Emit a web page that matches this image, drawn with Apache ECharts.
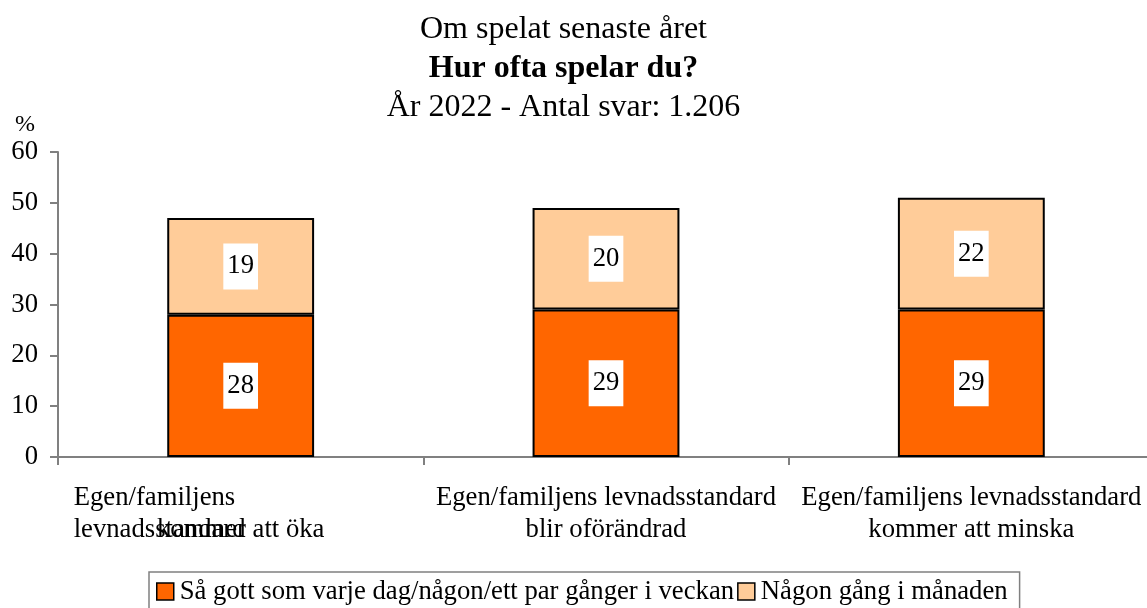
<!DOCTYPE html>
<html>
<head>
<meta charset="utf-8">
<script src="https://cdn.jsdelivr.net/npm/echarts@6/dist/echarts.min.js"></script>
<style>
html,body{margin:0;padding:0;background:#fff;}
#chart{width:1147px;height:608px;}
</style>
</head>
<body>
<div id="chart"></div>
<script>
// kategorier och värden (%)
var categories = [
	"Egen/familjens\nlevnadsstandard",
	"Egen/familjens levnadsstandard\nblir oförändrad",
	"Egen/familjens levnadsstandard\nkommer att minska"
];
var overlapLabels = ["\nkommer att öka", "", ""];
var seriesNames = ["Så gott som varje dag/någon/ett par gånger i veckan", "Någon gång i månaden"];
var weeklyData = [28, 29, 29];
var monthlyData = [19, 20, 22];
var yTicks = [0, 60, 10]; // min, max, interval

var font = 'Liberation Serif';
var axisGray = '#808080';
var fs = 26.7;

var chart = echarts.init(document.getElementById('chart'));

function barLabel() {
	return {
		show: true,
		position: 'inside',
		color: '#000',
		fontFamily: font,
		fontSize: fs,
		backgroundColor: '#fff',
		padding: [11, 4, 8, 4]
	};
}

var option = {
	animation: false,
	backgroundColor: '#fff',
	title: {
		left: 'center',
		top: 5,
		text: '{a|Om spelat senaste året}\n{b|Hur ofta spelar du?}\n{a|År 2022 - Antal svar: 1.206}',
		textStyle: {
			fontWeight: 'normal',
			rich: {
				a: {fontFamily: font, fontSize: 32, fontWeight: 'normal', color: '#000', lineHeight: 39, padding: [0, 20, 0, 0]},
				b: {fontFamily: font, fontSize: 32, fontWeight: 'bold', color: '#000', lineHeight: 39, padding: [0, 20, 0, 0]}
			}
		}
	},
	grid: {
		left: 58,
		width: 1096,
		top: 152,
		bottom: 151,
		containLabel: false,
		outerBoundsMode: 'none'
	},
	legend: {
		top: 572,
		left: 149,
		icon: 'rect',
		itemWidth: 17,
		itemHeight: 17,
		itemGap: 3,
		padding: [6, 12, 14, 7],
		borderColor: axisGray,
		borderWidth: 1.5,
		textStyle: {fontFamily: font, fontSize: fs, color: '#000', padding: [0, 0, 0, 1]},
		itemStyle: {borderColor: '#000', borderWidth: 1.5},
		data: seriesNames
	},
	yAxis: {
		type: 'value',
		min: yTicks[0],
		max: yTicks[1],
		interval: yTicks[2],
		name: '%',
		nameLocation: 'end',
		nameGap: 15,
		nameTextStyle: {fontFamily: font, fontSize: 24, color: '#000', align: 'right', padding: [0, 23, 0, 0]},
		axisLine: {show: true, lineStyle: {color: axisGray, width: 2}},
		axisTick: {show: true, length: 8, lineStyle: {color: axisGray, width: 2}},
		splitLine: {show: false},
		axisLabel: {fontFamily: font, fontSize: fs, color: '#000', margin: 20}
	},
	xAxis: [{
		type: 'category',
		data: categories,
		axisLine: {show: true, lineStyle: {color: axisGray, width: 2}},
		axisTick: {show: true, length: 8, lineStyle: {color: axisGray, width: 2}},
		axisLabel: {
			interval: 0,
			margin: 25,
			fontFamily: font,
			fontSize: fs,
			color: '#000',
			lineHeight: 32,
			formatter: function (val, idx) {
				if (idx === 0) {
					return val.split('\n').map(function (s) { return '{l|' + s + '}'; }).join('\n');
				}
				return val;
			},
			rich: {
				l: {fontFamily: font, fontSize: fs, color: '#000', lineHeight: 32, width: 334, align: 'left'}
			}
		}
	}, {
		type: 'category',
		position: 'bottom',
		data: overlapLabels,
		axisLine: {show: false},
		axisTick: {show: false},
		axisLabel: {
			interval: 0,
			margin: 25,
			fontFamily: font,
			fontSize: fs,
			color: '#000',
			lineHeight: 32
		}
	}],
	series: [{
		name: seriesNames[0],
		type: 'bar',
		stack: 'total',
		barWidth: '40.2%',
		itemStyle: {color: '#FF6600', borderColor: '#000', borderWidth: 2},
		label: barLabel(),
		data: weeklyData
	}, {
		name: seriesNames[1],
		type: 'bar',
		stack: 'total',
		barWidth: '40.2%',
		itemStyle: {color: '#FFCC99', borderColor: '#000', borderWidth: 2},
		label: barLabel(),
		data: monthlyData
	}]
};

chart.setOption(option);
</script>
</body>
</html>
